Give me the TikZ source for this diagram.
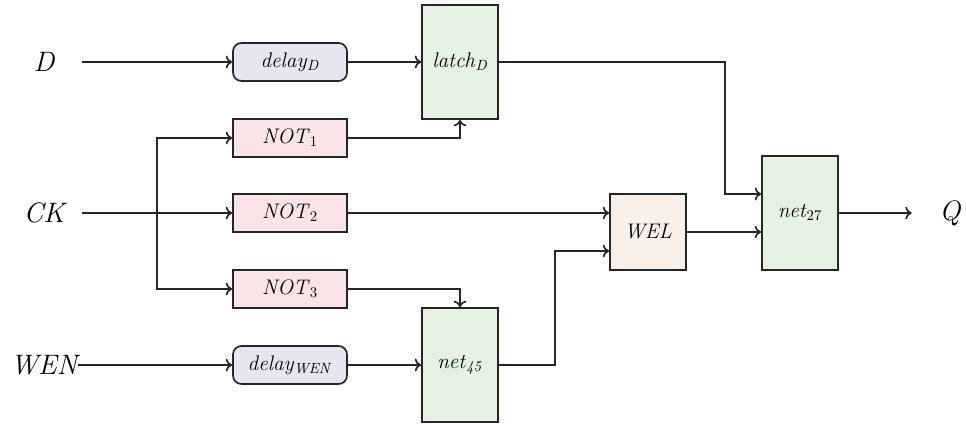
\documentclass[tikz,border=0pt]{standalone}
\usetikzlibrary{arrows.meta,calc,positioning}
\definecolor{delaylilac}{HTML}{E6E6F3}
\definecolor{notpink}{HTML}{FBE4E7}
\definecolor{netgreen}{HTML}{E6F2E1}
\definecolor{welbeige}{HTML}{F7F0EB}
\definecolor{edgegray}{HTML}{262626}
\newcommand{\sub}[2]{\textit{#1}\textsubscript{#2}}

\begin{document}
\begin{tikzpicture}[
		signal/.style={font=\fontsize{20}{22}\selectfont\itshape, inner sep=0pt, minimum width=1.9cm},
		box/.style={draw=edgegray, line width=1.2pt, font=\fontsize{15}{17}\selectfont, inner sep=0pt},
		delaybox/.style={box, fill=delaylilac, rounded corners=6pt, minimum width=2.85cm, minimum height=0.95cm},
		notbox/.style={box, fill=notpink, minimum width=2.85cm, minimum height=0.95cm},
		netbox/.style={box, fill=netgreen, minimum width=1.9cm, minimum height=2.85cm},
		welbox/.style={box, fill=welbeige, minimum width=1.9cm, minimum height=1.9cm},
		wire/.style={draw=edgegray, line width=1.2pt, -{To[length=1.6mm, width=3.2mm]}},
	]

	\useasboundingbox (0,0) rectangle (24.15,10.6);

	% x coordinates
	\def\xin{1.1}
	\def\xdelay{7.25}
	\def\xlatch{11.5}
	\def\xwel{16.2}
	\def\xout{20.0}
	\def\xq{23.75}

	% rows
	\def\yd{9.05}
	\def\ynota{7.15}
	\def\yck{5.275}
	\def\ynotc{3.375}
	\def\ywen{1.475}

	% signals
	\node[signal] (D) at (\xin,\yd) {D};
	\node[signal] (CK) at (\xin,\yck) {CK};
	\node[signal, minimum width=0pt] (WEN) at (1.1,\ywen) {WEN};
	\node[signal] (Q) at (\xq,\yck) {Q};

	% delays and inverters
	\node[delaybox] (delayD) at (\xdelay,\yd) {\sub{delay}{\textit{D}}};
	\node[notbox] (not1) at (\xdelay,\ynota) {\sub{NOT}{1}};
	\node[notbox] (not2) at (\xdelay,\yck) {\sub{NOT}{2}};
	\node[notbox] (not3) at (\xdelay,\ynotc) {\sub{NOT}{3}};
	\node[delaybox] (delayWEN) at (\xdelay,\ywen) {\sub{delay}{\textit{WEN}}};

	% blocks
	\node[netbox] (latchD) at (\xlatch,\yd) {\sub{latch}{\textit{D}}};
	\node[netbox] (net45) at (\xlatch,\ywen) {\sub{net}{\textit{45}}};
	\node[welbox] (wel) at (\xwel,4.8) {\textit{WEL}};
	\node[netbox] (net27) at (\xout,\yck) {\sub{net}{27}};

	% input pins
	\coordinate (split) at (3.925,\yck);
	\coordinate (welin) at ($(wel.west)+(0,-0.475)$);
	\coordinate (netin) at ($(net27.west)+(0,0.475)$);

	% D path
	\draw[wire] (D) -- (delayD);
	\draw[wire] (delayD) -- (latchD);
	\draw[wire] (latchD.east) -- (18.125,\yd) |- (netin);

	% clock fan-out
	\draw[wire] (CK) -- (not2);
	\draw[wire] (split) |- (not1);
	\draw[wire] (split) |- (not3);
	\draw[wire] (not1) -| (latchD);
	\draw[wire] (not3) -| (net45);
	\draw[wire] (not2) -- (not2 -| wel.west);

	% write enable
	\draw[wire] (WEN) -- (delayWEN);
	\draw[wire] (delayWEN) -- (net45);
	\draw[wire] (net45.east) -- (13.875,\ywen) |- (welin);
	\draw[wire] (wel.east) -- (wel.east -| net27.west);

	% output
	\draw[wire] (net27) -- (Q);

\end{tikzpicture}
\end{document}
